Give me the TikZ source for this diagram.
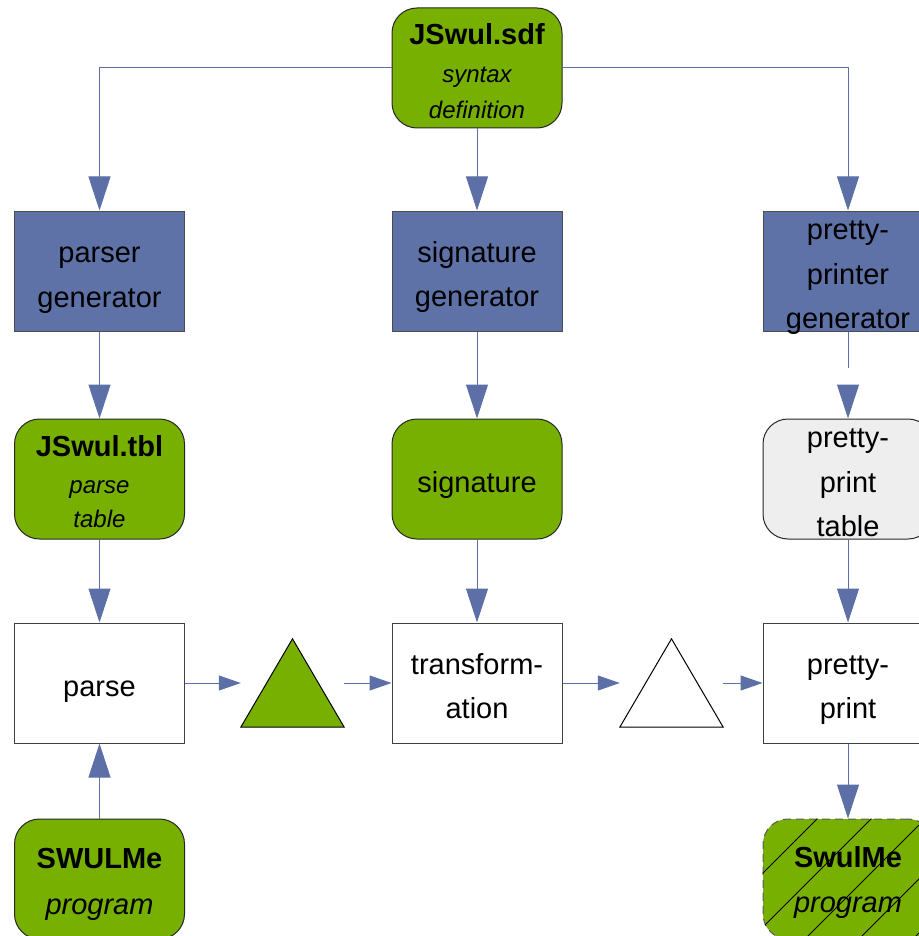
\documentclass[tikz,border=0pt]{standalone}
\usepackage{fontspec}
\setmainfont{Liberation Sans}
\usetikzlibrary{arrows.meta}
\definecolor{linkblue}{RGB}{92,111,166}
\definecolor{toolblue}{RGB}{94,114,168}
\definecolor{artgreen}{RGB}{119,176,0}
\definecolor{tablegray}{RGB}{238,238,238}
\begin{document}
\begin{tikzpicture}[x=1pt,y=-1pt,
  box/.style={minimum width=170pt,minimum height=120pt,inner sep=0pt,line width=1pt},
  tool/.style={box,draw=black!70,fill=toolblue},
  artefact/.style={box,draw=black!85,fill=artgreen,rounded corners=25pt},
  tableart/.style={box,draw=black!85,fill=tablegray,rounded corners=25pt},
  stage/.style={box,draw=black!75,fill=white},
  generated/.style={box,draw=black!65,dash pattern=on 8pt off 5pt,fill=artgreen,rounded corners=25pt},
  slot/.style={minimum width=103pt,minimum height=88pt,inner sep=0pt},
  caption/.style={align=center,inner sep=0pt,font=\fontsize{29}{44.5}\selectfont},
  dataflow/.style={draw=linkblue,line width=1pt,-{Triangle[length=34pt,width=22pt]}},
  passflow/.style={draw=linkblue,line width=1pt,-{Triangle[length=22pt,width=15pt]}},
  plain/.style={draw=linkblue,line width=1pt},
  hatch/.style={draw=black,line width=0.8pt},
]
\useasboundingbox (0,0) rectangle (918,936);

% artefacts, tools and stages
\node[artefact] (sdf)   at (477,68)   {};
\node[tool]     (pgen)  at (99.5,271) {};
\node[tool]     (sgen)  at (477,271)  {};
\node[tool]     (ppgen) at (848,271)  {};
\node[artefact] (tbl)   at (99.5,479) {};
\node[artefact] (sig)   at (477,479)  {};
\node[tableart] (ppt)   at (848,479)  {};
\node[stage]    (parse) at (99.5,683) {};
\node[stage]    (trans) at (477,683)  {};
\node[stage]    (pp)    at (848,683)  {};
\node[artefact] (src)   at (99.5,879) {};
\node[generated] (out)  at (848,879)  {};

% intermediate trees
\node[slot] (ast)  at (292.5,683) {};
\node[slot] (past) at (671.5,683) {};
\draw[fill=artgreen,draw=black,line width=1pt] (ast.south west) -- (ast.south east) -- (ast.north) -- cycle;
\draw[fill=white,draw=black,line width=1pt] (past.south west) -- (past.south east) -- (past.north) -- cycle;

% hatching of the generated program
\begin{scope}
  \clip[rounded corners=25pt] (out.south west) rectangle (out.north east);
  \foreach \c in {1582,1636,...,1906}
    \draw[hatch] (740,\c-740) -- (960,\c-960);
\end{scope}

% captions
\node[caption,font=\fontsize{24}{36}\selectfont,yshift=-3.5pt] (sdf-text) at (sdf)
  {{\fontsize{29}{36}\selectfont\bfseries JSwul.sdf}\\[2pt]\itshape syntax\\\itshape definition};
\node[caption,yshift=-9pt]    (pgen-text)  at (pgen)  {parser\\generator};
\node[caption,yshift=-6.15pt] (sgen-text)  at (sgen)  {signature\\generator};
\node[caption,yshift=-6.9pt]  (ppgen-text) at (ppgen) {pretty-\\printer\\generator};
\node[caption,font=\fontsize{24}{34}\selectfont,yshift=-3pt] (tbl-text) at (tbl)
  {{\fontsize{29}{34}\selectfont\bfseries JSwul.tbl}\\[3pt]\itshape parse\\\itshape table};
\node[caption,yshift=-6.15pt] (sig-text)   at (sig)   {signature};
\node[caption,yshift=-3.85pt] (ppt-text)   at (ppt)   {pretty-\\print\\table};
\node[caption,yshift=-9pt]    (parse-text) at (parse) {parse};
\node[caption,yshift=-3.1pt]  (trans-text) at (trans) {transform-\\ation};
\node[caption,yshift=-6.9pt]  (pp-text)    at (pp)    {pretty-\\print};
\node[caption,font=\fontsize{29}{46}\selectfont,yshift=-5.4pt] (src-text) at (src)
  {\bfseries SWULMe\\\itshape program};
\node[caption,font=\fontsize{29}{45}\selectfont,yshift=-3pt] (out-text) at (out)
  {\bfseries SwulMe\\\itshape program};

% generation from the syntax definition
\draw[dataflow] (sdf.west) -| (pgen.north);
\draw[dataflow] (sdf.south) -- (sgen.north);
\draw[dataflow] (sdf.east) -| (ppgen.north);
\draw[dataflow] (pgen.south) -- (tbl.north);
\draw[dataflow] (sgen.south) -- (sig.north);
\coordinate (ppgen-stub) at (848,368);
\coordinate (ppt-head)   at (848,385);
\draw[plain] (ppgen.south) -- (ppgen-stub);
\draw[dataflow] (ppt-head) -- (ppt.north);

% use of the generated components
\draw[dataflow] (tbl.south) -- (parse.north);
\draw[dataflow] (sig.south) -- (trans.north);
\draw[dataflow] (ppt.south) -- (pp.north);
\draw[dataflow] (src.north) -- (parse.south);
\draw[dataflow] (pp.south) -- (out.north);

% pipeline
\draw[passflow] (parse.east) -- (ast.west);
\draw[passflow] (ast.east) -- (trans.west);
\draw[passflow] (trans.east) -- (past.west);
\draw[passflow] (past.east) -- (pp.west);
\end{tikzpicture}
\end{document}
